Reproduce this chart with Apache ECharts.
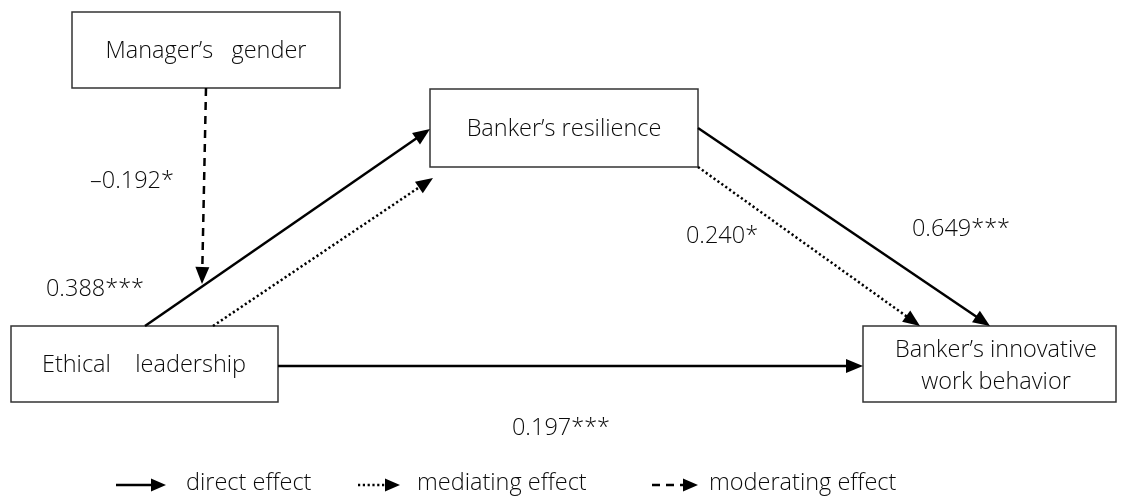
<!DOCTYPE html>
<html>
<head>
<meta charset="utf-8">
<script src="https://cdn.jsdelivr.net/npm/echarts@6/dist/echarts.min.js"></script>
<style>
  html, body { margin: 0; padding: 0; background: #fff; }
  #chart { width: 1121px; height: 497px; }
</style>
</head>
<body>
<div id="chart"></div>
<script>
// constructs in the model
var boxNames = ['Manager\u2019s   gender', 'Banker\u2019s resilience', 'Ethical    leadership', 'Banker\u2019s innovative\nwork behavior'];
// path coefficients
var coefNames = ['\u20130.192*', '0.388***', '0.240*', '0.649***', '0.197***'];
// path types: 0 direct, 1 mediating, 2 moderating
var legendNames = ['direct effect', 'mediating effect', 'moderating effect'];

// diagram layout (page units, y down)
var boxRects = [[72, 12, 340, 88], [430, 89, 698, 167], [11, 326, 278, 402], [863, 326, 1116, 402]];
var boxTextPos = [[206, 51], [564, 129], [144, 365], [996, 366]];
var arrows = [
    [206, 88, 202, 284, 2],   // gender -> path
    [145, 326, 430, 129, 0],  // ethical -> resilience
    [213, 326, 433, 178, 1],  // mediating
    [698, 128, 990, 326, 0],  // resilience -> innovative
    [698, 167, 920, 326, 1],  // mediating
    [278, 366, 863, 366, 0]   // ethical -> innovative
];
var coefPos = [[132, 181], [95, 289], [722, 236], [961, 229], [561, 428]];
var legendArrows = [[116, 485, 166, 485, 0], [358, 485, 400, 485, 1], [652, 485, 698, 485, 2]];
var legendTextPos = [[186, 483], [417, 483], [709, 483]];

var lineStyles = [
    { lineWidth: 2.5, lineDash: null },
    { lineWidth: 2.5, lineDash: [2.2, 2.6] },
    { lineWidth: 2.5, lineDash: [8, 6] }
];
var FONT = '300 23.5px "Open Sans", "Noto Sans", sans-serif';
var INK = '#0a0a0a';

var chart = echarts.init(document.getElementById('chart'));

function arrowItem(params, api) {
    var a = api.coord([api.value(0), api.value(1)]);
    var b = api.coord([api.value(2), api.value(3)]);
    var st = lineStyles[api.value(4)];
    var legend = api.value(5) === 1;
    var dx = b[0] - a[0], dy = b[1] - a[1];
    var len = Math.sqrt(dx * dx + dy * dy);
    var ux = dx / len, uy = dy / len;
    var hl = legend ? 15 : 17, hw = legend ? 13 : 14;
    var bx = b[0] - ux * hl, by = b[1] - uy * hl;
    return {
        type: 'group',
        children: [{
            type: 'line',
            shape: { x1: a[0], y1: a[1], x2: bx + ux * 2, y2: by + uy * 2 },
            style: { stroke: '#000', lineWidth: st.lineWidth, lineDash: st.lineDash }
        }, {
            type: 'polygon',
            shape: { points: [[b[0], b[1]], [bx - uy * hw / 2, by + ux * hw / 2], [bx + uy * hw / 2, by - ux * hw / 2]] },
            style: { fill: '#000' }
        }]
    };
}

var textData = [];
boxNames.forEach(function (n, i) { textData.push({ text: n, value: boxTextPos[i], align: 'center' }); });
coefNames.forEach(function (n, i) { textData.push({ text: n, value: coefPos[i], align: 'center' }); });
legendNames.forEach(function (n, i) { textData.push({ text: n, value: legendTextPos[i], align: 'left' }); });

function textItem(params, api) {
    var p = api.coord([api.value(0), api.value(1)]);
    var it = textData[params.dataIndex];
    return {
        type: 'text',
        x: p[0], y: p[1],
        style: { text: it.text, font: FONT, fill: INK, align: it.align, verticalAlign: 'middle', lineHeight: 32 }
    };
}

var arrowData = arrows.map(function (r) { return r.concat([0]); })
    .concat(legendArrows.map(function (r) { return r.concat([1]); }));

chart.setOption({
    animation: false,
    grid: { left: 0, right: 0, top: 0, bottom: 0 },
    xAxis: { type: 'value', min: 0, max: 1121, show: false },
    yAxis: { type: 'value', min: 0, max: 497, inverse: true, show: false },
    series: [{
        type: 'custom',
        renderItem: function (params, api) {
            var p0 = api.coord([api.value(0), api.value(1)]);
            var p1 = api.coord([api.value(2), api.value(3)]);
            return {
                type: 'rect',
                shape: { x: p0[0], y: p0[1], width: p1[0] - p0[0], height: p1[1] - p0[1] },
                style: { fill: '#fff', stroke: '#333', lineWidth: 1.5 }
            };
        },
        data: boxRects,
        z: 1
    }, {
        type: 'custom',
        renderItem: arrowItem,
        data: arrowData,
        z: 2
    }, {
        type: 'custom',
        renderItem: textItem,
        data: textData.map(function (t) { return t.value; }),
        z: 3
    }]
});
</script>
</body>
</html>
